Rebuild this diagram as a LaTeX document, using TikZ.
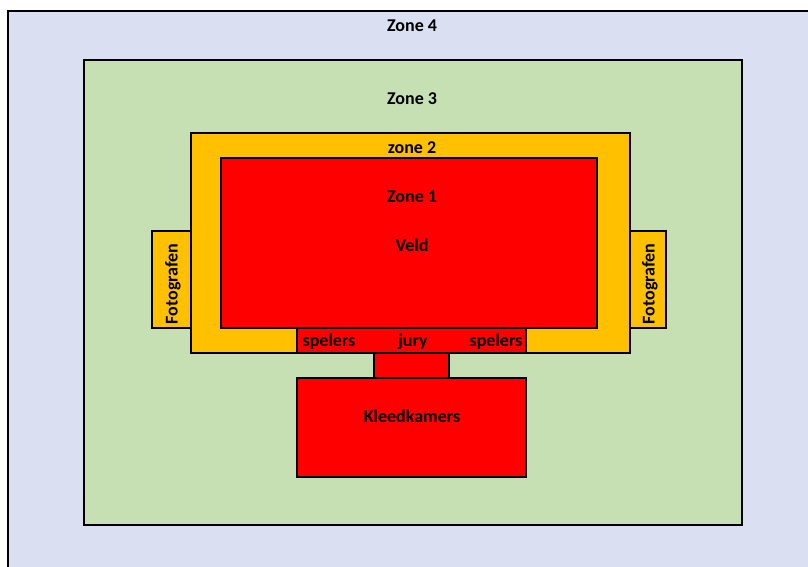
\documentclass[tikz,border=0pt]{standalone}
\usepackage{fontspec}
\setmainfont{Carlito}
\definecolor{zfour}{RGB}{218,224,242}
\definecolor{zthree}{RGB}{198,224,180}
\definecolor{ztwo}{RGB}{255,192,0}
\definecolor{zone}{RGB}{255,0,0}
\begin{document}
\begin{tikzpicture}[x=1pt,y=-1pt,
  zonebox/.style={draw=black,line width=1.6pt},
  lbl/.style={font=\bfseries\fontsize{18}{20}\selectfont,text=black,inner sep=0pt}]
\useasboundingbox (0,0) rectangle (808,566);
\fill[white] (0,0) rectangle (808,566);
% Zone 4
\draw[zonebox,fill=zfour] (8,11) rectangle (812,572);
\node[lbl] (z4) at (412,26) {Zone 4};
% Zone 3
\draw[zonebox,fill=zthree] (84,60) rectangle (742,525);
\node[lbl] (z3) at (412,99) {Zone 3};
% photographers
\draw[zonebox,fill=ztwo] (152,231) rectangle (191,328);
\node[lbl,rotate=90] (f1) at (173,284) {Fotografen};
\draw[zonebox,fill=ztwo] (630,231) rectangle (666,328);
\node[lbl,rotate=90] (f2) at (650,284) {Fotografen};
% Zone 2
\draw[zonebox,fill=ztwo] (191,133) rectangle (630,353);
\node[lbl] (z2) at (412,148) {zone 2};
% Zone 1
\draw[zonebox,fill=zone] (221,158) rectangle (597,328);
\node[lbl] (z1) at (412,197) {Zone 1};
\node[lbl] (veld) at (412,245) {Veld};
% bench bar
\draw[zonebox,fill=zone] (297,328) rectangle (526,353);
\node[lbl] (sp1) at (329,342) {spelers};
\node[lbl] (jury) at (413,342) {jury};
\node[lbl] (sp2) at (496,342) {spelers};
% corridor
\draw[zonebox,fill=zone] (374,353) rectangle (449,378);
% dressing rooms
\draw[zonebox,fill=zone] (297,378) rectangle (526,477);
\node[lbl] (kk) at (412,416) {Kleedkamers};
\end{tikzpicture}
\end{document}
